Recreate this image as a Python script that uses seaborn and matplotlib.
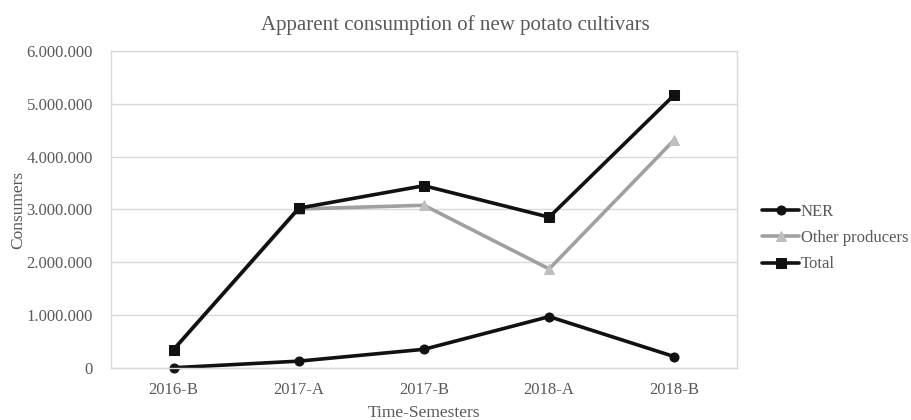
import pandas as pd
import seaborn as sns
import matplotlib.pyplot as plt
from matplotlib.ticker import FuncFormatter, MultipleLocator

# Data
semesters = ["2016-B", "2017-A", "2017-B", "2018-A", "2018-B"]
ner = [5000, 130000, 354000, 972000, 215000]
other_producers = [345000, 3010000, 3080000, 1875000, 4320000]
total = [350000, 3025000, 3450000, 2855000, 5170000]

df = pd.DataFrame({"Semester": semesters, "NER": ner,
                   "Other producers": other_producers, "Total": total})

sns.set_style("white")
plt.rcParams['font.family'] = ['Liberation Serif', 'DejaVu Serif']
text_color = "#595959"

fig = plt.figure(figsize=(9.11, 4.2), dpi=100)
ax = fig.add_axes([0.1218, 0.1238, 0.6872, 0.7548])

# series styles: (line colour, marker, marker colour)
styles = {
    "NER": ("#111111", "o", "#111111"),
    "Other producers": ("#A0A0A0", "^", "#BFBFBF"),
    "Total": ("#111111", "s", "#111111"),
}
for name, (col, mk, mcol) in styles.items():
    sns.lineplot(data=df, x="Semester", y=name, ax=ax, label=name,
                 color=col, marker=mk, markersize=6.5, linewidth=2.6,
                 markerfacecolor=mcol, markeredgecolor=mcol, sort=False,
                 clip_on=False)

ax.set_xlim(-0.5, 4.5)
ax.set_ylim(0, 6000000)
ax.yaxis.set_major_locator(MultipleLocator(1000000))
ax.yaxis.set_major_formatter(
    FuncFormatter(lambda v, p: f"{v:,.0f}".replace(",", ".")))
ax.grid(axis="y", color="#D9D9D9", linewidth=1)
ax.set_axisbelow(True)
for s in ax.spines.values():
    s.set_color("#D9D9D9")
    s.set_linewidth(1)

ax.tick_params(axis="both", length=0, labelsize=12, labelcolor=text_color)
ax.tick_params(axis="x", pad=10)
ax.tick_params(axis="y", pad=13)
ax.set_xlabel("Time-Semesters", fontsize=12.5, color=text_color, labelpad=5)
ax.set_ylabel("Consumers", fontsize=12.5, color=text_color, labelpad=0)
fig.suptitle("Apparent consumption of new potato cultivars",
             fontsize=15, color=text_color, x=0.5, y=0.965)

leg = ax.legend(loc="center left", bbox_to_anchor=(1.03, 0.41), frameon=False,
                fontsize=12, handlelength=2.2, handletextpad=0.1,
                labelspacing=0.62, borderaxespad=0)
for t in leg.get_texts():
    t.set_color(text_color)

fig.savefig("out.png", dpi=100)
